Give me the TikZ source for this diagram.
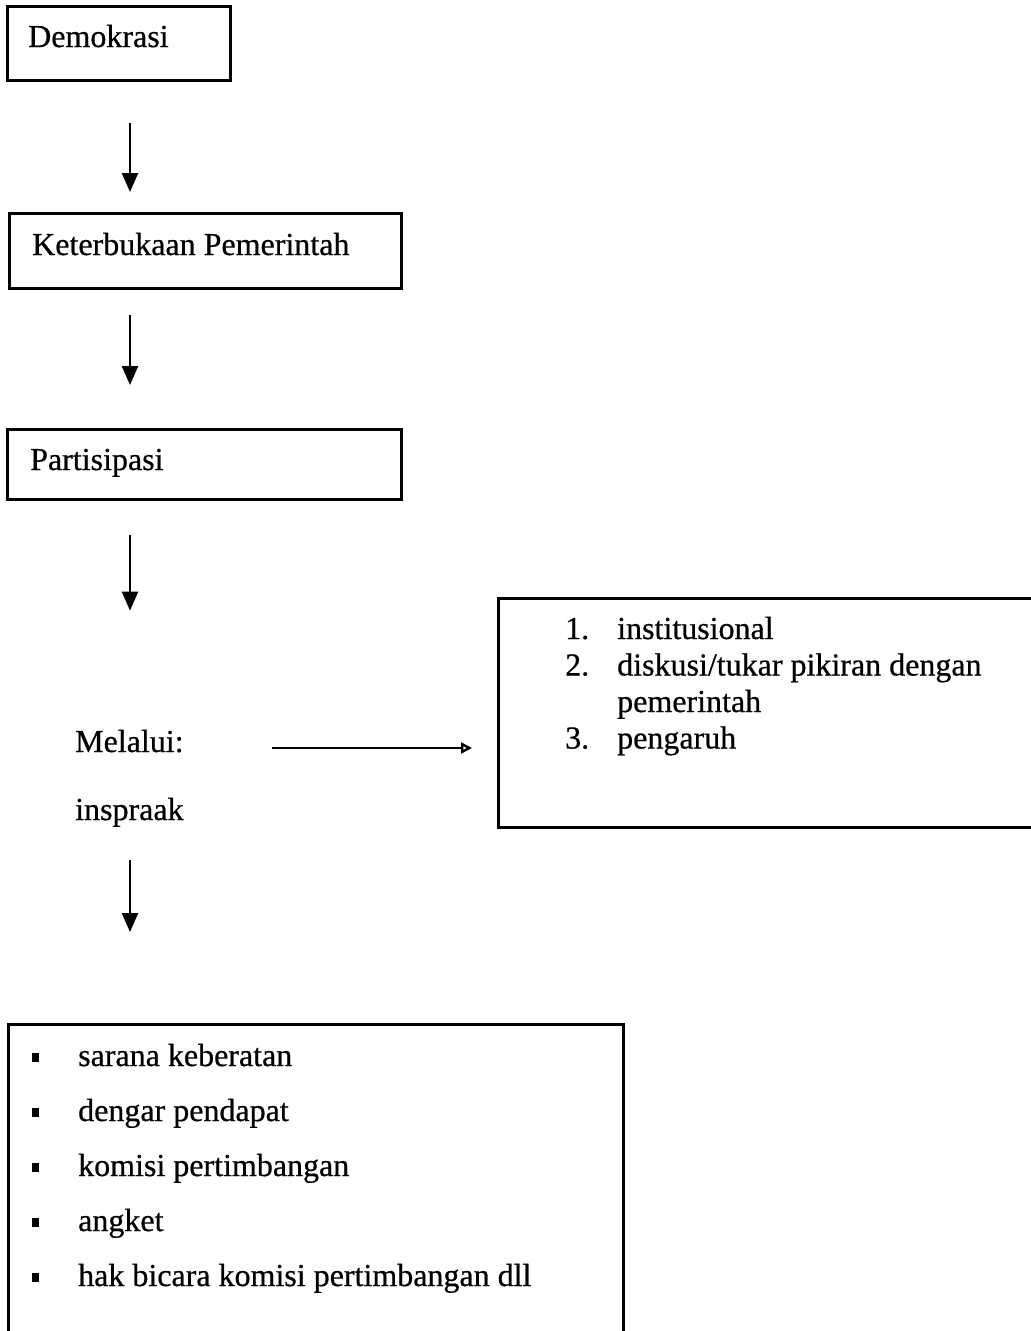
\documentclass[tikz,border=0pt]{standalone}
\usepackage{fontspec}
\setmainfont[FakeBold=0.6]{Liberation Serif}
\usetikzlibrary{arrows.meta}
\begin{document}
\begin{tikzpicture}[x=1pt,y=-1pt,
  box/.style={draw, line width=2.6pt, inner sep=0pt, anchor=north west},
  lbl/.style={font=\fontsize{32}{36.5}\selectfont, anchor=base west, inner sep=0pt},
  down/.style={-{Triangle[length=19pt,width=16pt]}, line width=2.4pt},
  side/.style={-{Triangle[open,length=11pt,width=11pt]}, line width=2.4pt}]
\useasboundingbox (0,0) rectangle (1031,1331);
\clip (0,0) rectangle (1031,1331);
\coordinate (ax) at (130,0);
\coordinate (hy) at (0,748);
% boxes
\node[box, minimum width=223pt, minimum height=74pt] (demo) at (6,5) {};
\node[lbl] (demoT) at (28,47) {Demokrasi};
\node[box, minimum width=392pt, minimum height=75pt] (keter) at (8,212) {};
\node[lbl] (keterT) at (32,255) {Keterbukaan Pemerintah};
\node[box, minimum width=394pt, minimum height=70pt] (partis) at (6,428) {};
\node[lbl] (partisT) at (30,470) {Partisipasi};
\node[lbl] (melalui) at (75,752) {Melalui:};
\node[lbl] (inspraak) at (75,820) {inspraak};
\node[box, minimum width=600pt, minimum height=229pt] (right) at (497,597) {};
\node[lbl] (rightT) at (565,639) {\begin{tabular}[t]{@{}p{52pt}@{}l@{}}
1. & institusional\\
2. & diskusi/tukar pikiran dengan\\
   & pemerintah\\
3. & pengaruh
\end{tabular}};
\node[box, minimum width=615pt, minimum height=400pt] (bottom) at (7,1023) {};
\node[lbl, font=\fontsize{32}{55}\selectfont] (bottomT) at (32,1066) {\begin{tabular}[t]{@{}p{46pt}@{}l@{}}
\raisebox{4pt}{\rule{7pt}{9pt}} & sarana keberatan\\
\raisebox{4pt}{\rule{7pt}{9pt}} & dengar pendapat\\
\raisebox{4pt}{\rule{7pt}{9pt}} & komisi pertimbangan\\
\raisebox{4pt}{\rule{7pt}{9pt}} & angket\\
\raisebox{4pt}{\rule{7pt}{9pt}} & hak bicara komisi pertimbangan dll
\end{tabular}};
% connectors
\draw[down, shorten <=41pt, shorten >=20pt] (demo.south -| ax) -- (keter.north -| ax);
\draw[down, shorten <=25pt, shorten >=43pt] (keter.south -| ax) -- (partis.north -| ax);
\draw[down, shorten <=34pt, shorten >=119pt] (partis.south -| ax) -- (melalui.north -| ax);
\draw[down, shorten <=33pt, shorten >=91pt] (inspraak.south -| ax) -- (bottom.north -| ax);
\draw[side, shorten <=88pt, shorten >=25pt] (melalui.east |- hy) -- (right.west |- hy);
\end{tikzpicture}
\end{document}
